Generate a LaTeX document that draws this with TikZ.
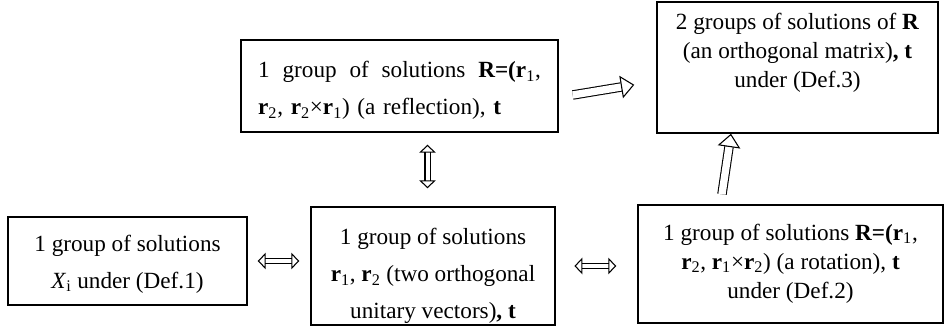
\documentclass[tikz,border=0pt]{standalone}
\usepackage{fontspec}
\setmainfont{Liberation Serif}
\usetikzlibrary{arrows.meta,calc}

\newcommand{\bvec}[2]{\textbf{#1}\textsubscript{#2}}

\begin{document}
\begin{tikzpicture}[
  x=0.75pt, y=0.75pt,
  box/.style={draw, line width=1.1pt, inner sep=0pt},
  txt/.style={align=center, inner sep=0pt, font=\fontsize{17.4pt}{27.5pt}\selectfont},
  tight/.style={font=\fontsize{17.4pt}{21.75pt}\selectfont},
  dimp/.style={double, double distance=3pt, line width=0.8pt, {Triangle[open, length=6pt, width=12.5pt]}-{Triangle[open, length=6pt, width=12.5pt]}},
  imp/.style={double, double distance=5.5pt, line width=0.8pt, -{Triangle[open, length=10pt, width=17pt]}}
]
\useasboundingbox (0,0) rectangle (945,327);

% boxes
\node[box, minimum width=179.25pt, minimum height=66pt] (xi) at (127.5,66) {};
\node[box, minimum width=237.75pt, minimum height=69pt] (refl) at (399.5,241) {};
\node[box, minimum width=183pt, minimum height=88.5pt] (unit) at (433,61) {};
\node[box, minimum width=228.75pt, minimum height=88.5pt] (rot) at (790.5,63) {};
\node[box, minimum width=210.75pt, minimum height=98.25pt] (orth) at (797.5,259.5) {};

% texts
\node[txt] (xitext) at ([yshift=-2.6pt]xi.center) {1 group of solutions\\ \textit{X}\textsubscript{i} under (Def.1)};
\node[txt, align=left, text width=212pt] (refltext) at ([yshift=-3.4pt]refl.center)
  {\makebox[212pt][l]{1\hfill group\hfill of\hfill solutions\hfill \textbf{R=(r}\textsubscript{1},}\\
   \bvec{r}{2}, \bvec{r}{2}×\bvec{r}{1}) (a reflection), \textbf{t}};
\node[txt] (unittext) at ([yshift=-7.5pt]unit.center)
  {1 group of solutions\\ \bvec{r}{1}, \bvec{r}{2} (two orthogonal\\ unitary vectors)\textbf{, t}};
\node[txt, tight] (rottext) at ([yshift=0.5pt]rot.center)
  {1 group of solutions \textbf{R=(r}\textsubscript{1},\\
   \bvec{r}{2}, \bvec{r}{1}×\bvec{r}{2}) (a rotation), \textbf{t}\\ under (Def.2)};
\node[txt, tight] (orthtext) at ([yshift=11pt]orth.center)
  {2 groups of solutions of \textbf{R}\\ (an orthogonal matrix)\textbf{, t}\\ under (Def.3)};

% equivalences
\draw[dimp, shorten <=7.5pt, shorten >=8.25pt] (xi.east) -- (xi.east -| unit.west);
\draw[dimp, shorten <=14pt, shorten >=15.75pt] (unit.east) -- (unit.east -| rot.west);
\draw[dimp, shorten <=9pt, shorten >=13.5pt] ([xshift=21pt]refl.south) -- ([xshift=21pt]refl.south |- unit.north);

% implications
\draw[imp] ([xshift=10.5pt, yshift=-6.75pt]refl.east) -- ([xshift=-16.5pt, yshift=-13pt]orth.west);
\draw[imp] ([xshift=-51.4pt, yshift=7.5pt]rot.north) -- ([xshift=-49.9pt]orth.south);

\end{tikzpicture}
\end{document}
